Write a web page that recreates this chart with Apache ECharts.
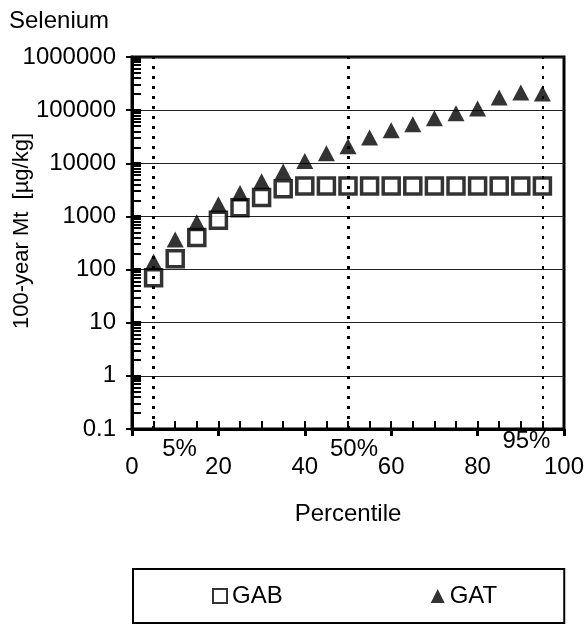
<!DOCTYPE html>
<html>
<head>
<meta charset="utf-8">
<script src="https://cdn.jsdelivr.net/npm/echarts@6/dist/echarts.min.js"></script>
<style>
  html, body { margin: 0; padding: 0; background: #fff; }
  #chart { width: 585px; height: 624px; }
</style>
</head>
<body>
<div id="chart"></div>
<script>
// Percentiles at which the 100-year Mt values are reported
const percentiles = [5, 10, 15, 20, 25, 30, 35, 40, 45, 50, 55, 60, 65, 70, 75, 80, 85, 90, 95];
// GAB series [µg/kg]
const gabValues = [70, 160, 400, 850, 1460, 2280, 3300, 3750, 3750, 3750, 3750, 3750, 3750, 3750, 3750, 3750, 3750, 3750, 3750];
// GAT series [µg/kg]
const gatValues = [140, 370, 780, 1700, 2750, 4600, 7000, 11000, 15400, 21000, 30500, 42000, 54000, 70000, 87000, 107000, 173000, 215000, 205000];
// Reference percentile lines
const refPercentiles = [5, 50, 95];

const FONT = 'Liberation Sans, Arial, sans-serif';
const chart = echarts.init(document.getElementById('chart'), null, { renderer: 'canvas' });

const pairs = (xs, ys) => xs.map((x, i) => [x, ys[i]]);

const refLabelOffsets = { 5: [26, 2], 50: [6, 2], 95: [-16, -6] };
const refWidths = { 5: 3, 50: 3, 95: 2 };

chart.setOption({
  animation: false,
  backgroundColor: '#fff',
  title: {
    text: 'Selenium',
    left: 4, top: 4,
    textStyle: { fontFamily: FONT, fontSize: 24, fontWeight: 'normal', color: '#000' }
  },
  grid: {
    left: 132, right: 21, top: 57, bottom: 195,
    containLabel: false, outerBoundsMode: 'none',
    show: true, borderColor: '#000', borderWidth: 3, backgroundColor: 'transparent'
  },
  xAxis: [
    {
      type: 'value', min: 0, max: 100, interval: 5,
      name: 'Percentile', nameLocation: 'middle', nameGap: 73, nameMoveOverlap: false,
      nameTextStyle: { fontFamily: FONT, fontSize: 24, color: '#000' },
      axisLine: { lineStyle: { color: '#000', width: 3 } },
      axisTick: { inside: true, length: 8, lineStyle: { color: '#000', width: 2 } },
      splitLine: { show: false },
      axisLabel: {
        margin: 26, fontFamily: FONT, fontSize: 24, color: '#000',
        formatter: v => (v % 20 === 0 ? String(v) : '')
      }
    },
    {
      type: 'value', min: 0, max: 100, interval: 20,
      position: 'bottom', offset: 0,
      axisLine: { show: false },
      axisTick: { inside: false, length: 7, lineStyle: { color: '#000', width: 3 } },
      axisLabel: { show: false },
      splitLine: { show: false }
    }
  ],
  yAxis: [
    {
      type: 'log', logBase: 10, min: 0.1, max: 1000000,
      name: '100-year Mt  [µg/kg]', nameLocation: 'middle', nameGap: 99, nameRotate: 90,
      nameMoveOverlap: false,
      nameTextStyle: { fontFamily: FONT, fontSize: 22, color: '#000', padding: [0, 0, 0, 24] },
      axisLine: { lineStyle: { color: '#000', width: 3 } },
      axisTick: { inside: true, length: 9, lineStyle: { color: '#000', width: 3 } },
      minorTick: { show: true, splitNumber: 9, length: 9, lineStyle: { color: '#000', width: 2 } },
      splitLine: { show: true, lineStyle: { color: '#222', width: 1 } },
      axisLabel: {
        margin: 16, fontFamily: FONT, fontSize: 24, color: '#000',
        formatter: v => String(Number(v.toPrecision(6)))
      }
    },
    {
      type: 'log', logBase: 10, min: 0.1, max: 1000000,
      position: 'left', offset: 0,
      axisLine: { show: false },
      axisTick: { inside: false, length: 6, lineStyle: { color: '#000', width: 2 } },
      axisLabel: { show: false },
      splitLine: { show: false }
    }
  ],
  legend: {
    left: 133, top: 569,
    padding: [15, 67, 15, 79],
    itemGap: 148,
    itemWidth: 14, itemHeight: 14,
    borderColor: '#000', borderWidth: 2,
    textStyle: { fontFamily: FONT, fontSize: 24, color: '#000' },
    data: ['GAB', 'GAT']
  },
  series: [
    {
      name: 'GAB', type: 'scatter', xAxisIndex: 0, yAxisIndex: 0,
      symbol: 'rect', symbolSize: 16,
      itemStyle: { color: '#fff', borderColor: '#000', borderWidth: 3.5 },
      data: pairs(percentiles, gabValues),
      markLine: {
        silent: true, symbol: 'none',
        lineStyle: { color: '#000', type: [3, 7], width: 3 },
        label: {
          show: true, position: 'start', distance: 6,
          fontFamily: FONT, fontSize: 24, color: '#000'
        },
        data: refPercentiles.map(p => ({
          xAxis: p,
          lineStyle: { width: refWidths[p] },
          label: { formatter: p + '%', offset: refLabelOffsets[p] }
        }))
      }
    },
    {
      name: 'GAT', type: 'scatter', xAxisIndex: 0, yAxisIndex: 0,
      symbol: 'triangle', symbolSize: [17, 16],
      itemStyle: { color: '#000' },
      data: pairs(percentiles, gatValues)
    }
  ]
});
</script>
</body>
</html>
